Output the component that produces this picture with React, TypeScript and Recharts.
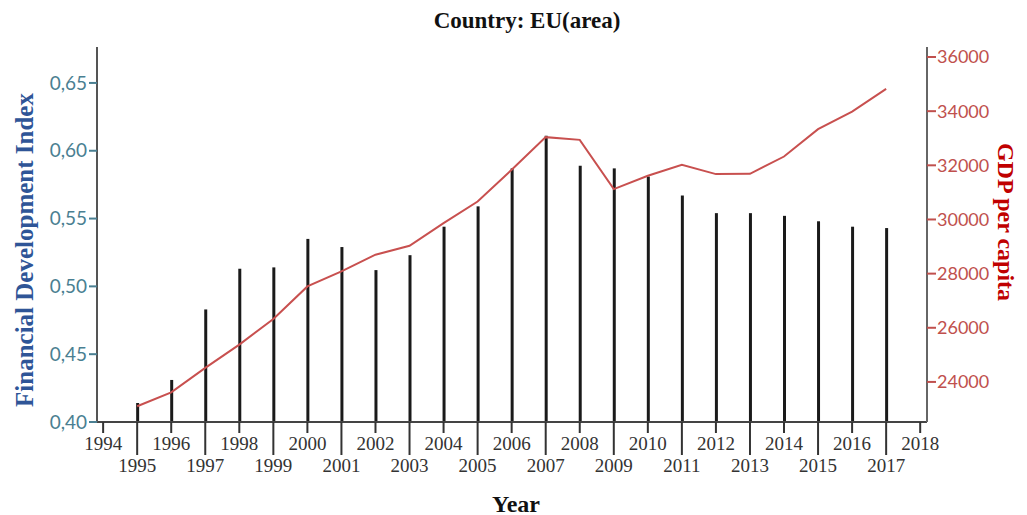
import React from 'react';
import { ComposedChart, Bar, Line, XAxis, YAxis } from 'recharts';

const years = [1995, 1996, 1997, 1998, 1999, 2000, 2001, 2002, 2003, 2004, 2005, 2006, 2007, 2008, 2009, 2010, 2011, 2012, 2013, 2014, 2015, 2016, 2017];
const fdi = [0.414, 0.431, 0.483, 0.513, 0.514, 0.535, 0.529, 0.512, 0.523, 0.544, 0.559, 0.587, 0.611, 0.589, 0.587, 0.581, 0.567, 0.554, 0.554, 0.552, 0.548, 0.544, 0.543];
const gdp = [23100, 23616, 24517, 25376, 26325, 27528, 28081, 28700, 29030, 29867, 30664, 31834, 33041, 32941, 31122, 31613, 32018, 31675, 31686, 32325, 33336, 33985, 34823];
const yearTicks = [1994, 1995, 1996, 1997, 1998, 1999, 2000, 2001, 2002, 2003, 2004, 2005, 2006, 2007, 2008, 2009, 2010, 2011, 2012, 2013, 2014, 2015, 2016, 2017, 2018];
const fdiTicks = [0.4, 0.45, 0.5, 0.55, 0.6, 0.65];
const gdpTicks = [24000, 26000, 28000, 30000, 32000, 34000, 36000];

const data = years.map((y, i) => ({ year: y, fdi: fdi[i], gdp: gdp[i] }));

const XTick = (props: any) => {
  const { x, y, payload } = props;
  const odd = payload.value % 2 === 1;
  const len = odd ? 33 : 11;
  const ty = odd ? y + 43 : y + 21;
  return (
    <g>
      <line x1={x} x2={x} y1={y} y2={y + len} stroke="#333" strokeWidth={2} />
      <text x={x} y={ty} textAnchor="middle" dominantBaseline="central" fill="#333"
        style={{ fontFamily: '"Liberation Serif", serif', fontSize: 19 }}>
        {payload.value}
      </text>
    </g>
  );
};

const serifBold: React.CSSProperties = {
  position: 'absolute',
  fontFamily: '"Liberation Serif", serif',
  fontWeight: 'bold',
  whiteSpace: 'nowrap',
  lineHeight: 1,
};

export default function App() {
  return (
    <div style={{ position: 'relative', width: 1011, height: 507 }}>
      <ComposedChart width={1011} height={500} data={data} margin={{ top: 39, right: 0, bottom: 0, left: 0 }}>
        <XAxis xAxisId="top" orientation="top" type="number" dataKey="year" domain={[1993.82, 2018.2]}
          allowDataOverflow height={0} tick={false} tickLine={false} axisLine={{ stroke: '#888', strokeWidth: 2 }} />
        <XAxis type="number" dataKey="year" domain={[1993.82, 2018.2]} allowDataOverflow ticks={yearTicks}
          interval={0} height={86} tickSize={0} tickMargin={0} tickLine={false}
          axisLine={{ stroke: '#444', strokeWidth: 2 }} tick={<XTick />} />
        <YAxis yAxisId="left" orientation="left" width={89} domain={[0.4, 0.6765]} allowDataOverflow
          ticks={fdiTicks} interval={0} tickSize={8} tickMargin={2}
          tickFormatter={(v: number) => v.toFixed(2).replace('.', ',')}
          tick={{ fill: '#4A7F92', fontFamily: 'Lato, sans-serif', fontSize: 19 }}
          tickLine={{ stroke: '#4A7F92', strokeWidth: 2 }}
          axisLine={{ stroke: '#555', strokeWidth: 2 }} />
        <YAxis yAxisId="right" orientation="right" width={92} domain={[22520, 36370]} allowDataOverflow
          ticks={gdpTicks} interval={0} tickSize={9} tickMargin={1}
          tick={{ fill: '#C0504D', fontFamily: 'Lato, sans-serif', fontSize: 18 }}
          tickLine={{ stroke: '#C0504D', strokeWidth: 2 }}
          axisLine={{ stroke: '#666', strokeWidth: 2 }} />
        <Bar yAxisId="left" dataKey="fdi" barSize={3} fill="#1a1a1a" isAnimationActive={false} />
        <Line yAxisId="right" dataKey="gdp" type="linear" stroke="#C8504F" strokeWidth={2} dot={false}
          activeDot={false} isAnimationActive={false} />
      </ComposedChart>
      <div style={{ ...serifBold, left: 519, top: 12, transform: 'translate(-50%, -50%)', fontSize: 23, color: '#111' }}>
        Country: EU(area)
      </div>
      <div style={{ ...serifBold, left: 508, top: 496, transform: 'translate(-50%, -50%)', fontSize: 24, color: '#111' }}>
        Year
      </div>
      <div style={{ ...serifBold, left: 16, top: 242, transform: 'translate(-50%, -50%) rotate(-90deg)', fontSize: 25, color: '#2F5597' }}>
        Financial Development Index
      </div>
      <div style={{ ...serifBold, left: 998, top: 214, transform: 'translate(-50%, -50%) rotate(90deg)', fontSize: 24, color: '#C00000' }}>
        GDP per capita
      </div>
    </div>
  );
}
